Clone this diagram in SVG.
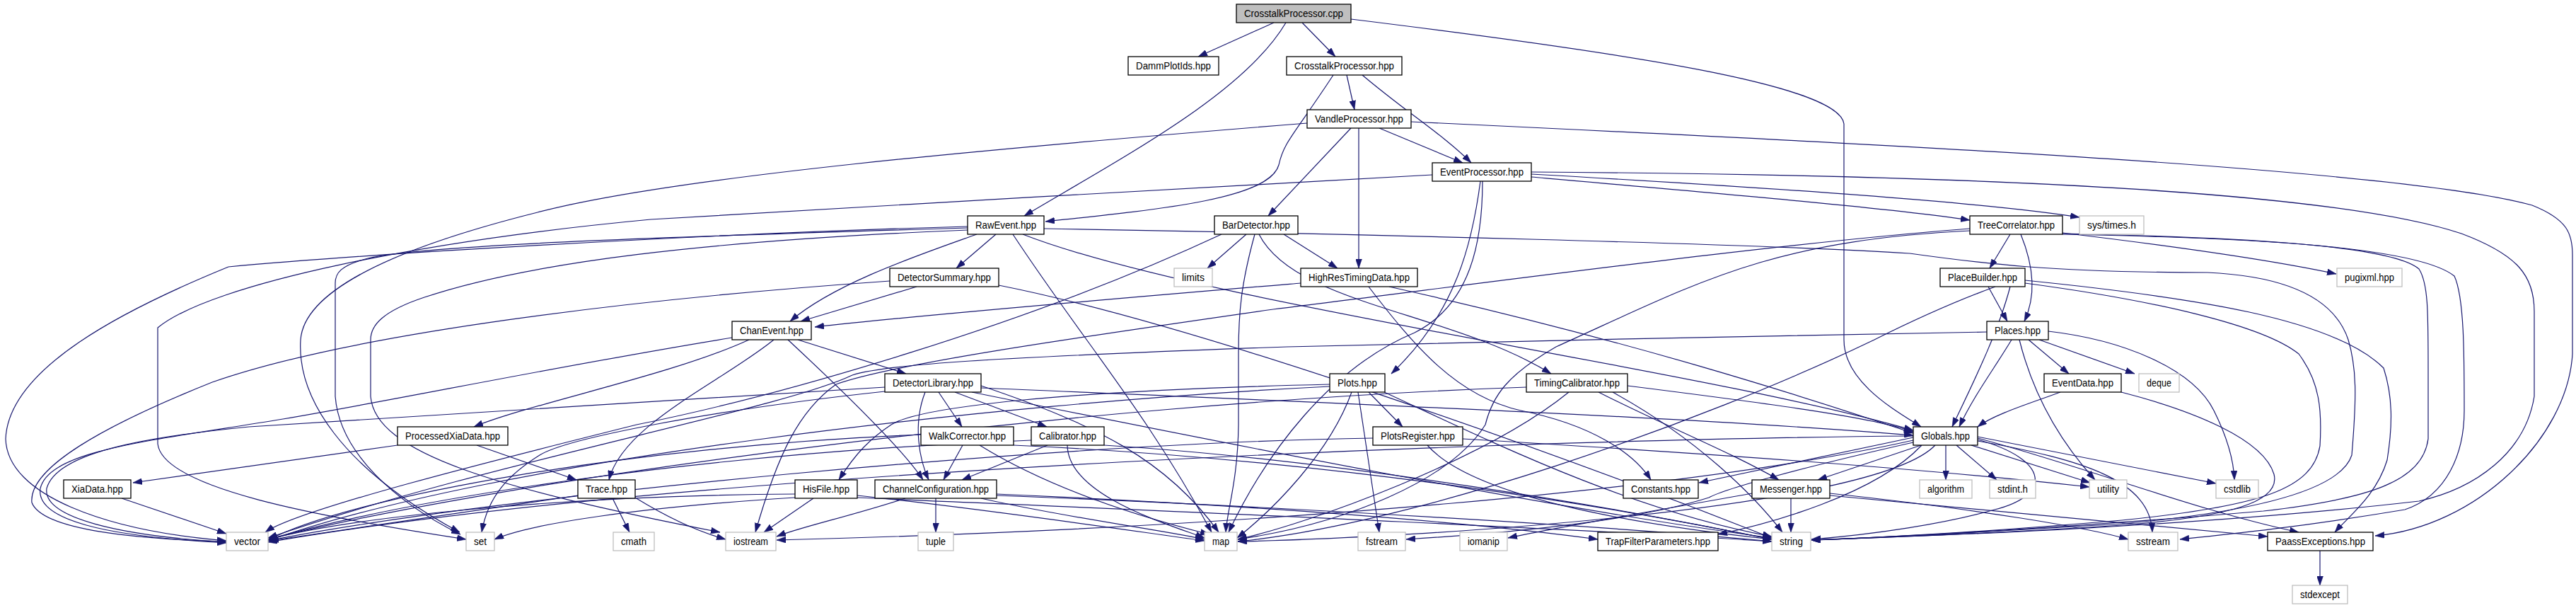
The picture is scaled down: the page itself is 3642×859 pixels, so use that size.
<svg xmlns="http://www.w3.org/2000/svg" width="3642" height="859" viewBox="0 0 3642 859">
<style>
.bg{fill:#ffffff}
.n rect{fill:#ffffff;stroke:#000000;stroke-width:1.3}
.s rect{fill:#ffffff;stroke:#bfbfbf;stroke-width:1.3}
.r rect{fill:#bfbfbf;stroke:#000000;stroke-width:1.3}
text{font-family:"Liberation Sans",Arial,sans-serif;font-size:14px;fill:#000000;text-anchor:middle}
#edges path{fill:none;stroke:#191970;stroke-width:1.2;marker-end:url(#ah)}
</style>
<defs>
<marker id="ah" viewBox="0 0 13 9" refX="13" refY="4.5" markerWidth="13" markerHeight="9" orient="auto" markerUnits="userSpaceOnUse">
<path d="M0,0 L13,4.5 L0,9 z" fill="#191970" stroke="#191970" stroke-width="0.5"/>
</marker>
</defs>
<rect class="bg" x="0" y="0" width="3642" height="859"/>
<g id="edges">
<path d="M1801,32 L1694,80"/>
<path d="M1841,32 L1888,80"/>
<path d="M1818,32 C1760,130 1600,215 1448,305"/>
<path d="M1910,27 C2300,75 2600,120 2607,175 L2607,480 C2607,540 2680,580 2716,603"/>
<path d="M1904,106 L1915,155"/>
<path d="M1926,106 C1990,160 2040,190 2080,230"/>
<path d="M1885,106 C1830,190 1815,200 1808,233 C1795,280 1650,295 1478,313"/>
<path d="M1910,181 L1793,305"/>
<path d="M1950,181 L2068,230"/>
<path d="M1921,181 L1921,379"/>
<path d="M1848,174 C1400,210 950,250 760,300 C560,350 430,410 425,480 C420,560 480,660 650,752"/>
<path d="M1995,172 C2700,205 3400,240 3580,290 C3630,310 3637,330 3637,360 L3637,500 C3630,620 3500,745 3358,757"/>
<path d="M2165,250 C2450,275 2680,295 2785,311"/>
<path d="M2165,246 C2500,265 2800,285 2940,307"/>
<path d="M2165,243 C2800,247 3300,270 3480,330 C3560,360 3583,390 3583,440 L3583,560 C3570,640 3500,690 3420,708 C3100,745 2700,758 2561,763"/>
<path d="M2093,256 C2082,340 2060,440 1967,528"/>
<path d="M2096,256 C2096,340 2080,430 2000,470 C1880,520 1790,640 1737,752"/>
<path d="M2025,247 C1700,265 1250,290 920,310 C600,340 300,400 223,463 L223,627 C230,690 450,730 659,762"/>
<path d="M1408,331 L1352,379"/>
<path d="M1381,331 C1300,360 1180,400 1117,454"/>
<path d="M1432,331 C1530,480 1620,580 1713,752"/>
<path d="M1446,331 C1700,430 2400,520 2705,608"/>
<path d="M1476,323 C1900,330 2500,345 2700,358 C2800,372 2900,385 3121,385 C3230,390 3300,420 3320,480 C3332,520 3332,560 3325,643 C3310,690 3200,722 3000,740 C2800,752 2650,760 2561,763"/>
<path d="M1368,320 C1000,330 500,360 323,377 C176,437 12,520 8,620 C10,700 150,750 320,764"/>
<path d="M1368,322 C1000,333 600,345 520,365 C480,375 474,387 474,400 L474,560 C480,640 560,710 651,755"/>
<path d="M1368,325 C1000,340 750,370 600,420 C540,440 524,460 524,480 L524,560 C530,640 700,690 1018,752"/>
<path d="M1296,405 L1132,454"/>
<path d="M1258,397 C900,422 500,470 300,540 C150,600 40,660 45,710 C60,750 200,762 320,765"/>
<path d="M1412,403 C1700,460 2200,640 2505,760"/>
<path d="M1762,331 L1707,379"/>
<path d="M1815,331 L1891,379"/>
<path d="M1774,331 C1755,400 1751,440 1751,500 L1751,600 C1750,680 1735,720 1733,752"/>
<path d="M1780,331 C1830,430 2050,440 2193,528"/>
<path d="M1727,331 C1450,460 1100,560 900,600 C700,650 420,720 375,752"/>
<path d="M1839,400 C1600,420 1300,445 1152,462"/>
<path d="M1964,405 C2300,480 2550,560 2705,612"/>
<path d="M1935,405 C2000,490 2060,560 2150,580 C2250,600 2310,640 2334,678"/>
<path d="M2842,331 L2813,379"/>
<path d="M2857,331 C2877,380 2878,420 2862,454"/>
<path d="M2916,329 C3050,345 3200,365 3303,387"/>
<path d="M2785,323 C2500,345 2100,400 1800,437 C1500,480 1260,515 1182,543 C1130,580 1100,640 1068,752"/>
<path d="M2785,326 C2500,340 2400,400 2200,490 C2130,530 2110,560 2100,600 C2050,680 1900,740 1750,762"/>
<path d="M2916,330 C3150,335 3380,345 3420,380 C3433,400 3433,440 3433,520 L3433,620 C3425,680 3350,705 3200,722 C2900,748 2650,760 2561,763"/>
<path d="M2916,331 C3200,336 3420,350 3470,390 C3484,420 3484,500 3484,580 C3484,640 3460,700 3400,720 C3250,745 3150,755 3082,762"/>
<path d="M2811,405 L2838,454"/>
<path d="M2842,405 C2825,470 2790,540 2760,603"/>
<path d="M2821,405 C2780,420 2720,445 2650,480 C2400,600 2000,740 1750,765"/>
<path d="M2863,396 C3100,420 3300,450 3370,520 C3383,560 3383,600 3375,650 C3360,700 3320,730 3301,752"/>
<path d="M2863,400 C3050,425 3200,460 3250,500 C3280,540 3283,580 3280,630 C3270,690 3200,715 3000,735 C2800,752 2650,760 2561,763"/>
<path d="M2868,480 L2925,528"/>
<path d="M2883,480 L3018,528"/>
<path d="M2844,480 C2820,520 2790,560 2770,603"/>
<path d="M2855,480 C2870,540 2900,610 2962,678"/>
<path d="M2896,468 C3000,480 3100,520 3130,580 C3150,620 3158,650 3159,678"/>
<path d="M2809,469 C2600,472 2000,485 1820,490 C1400,505 1250,515 1205,530 C1100,580 700,650 379,760"/>
<path d="M2913,554 C2870,570 2820,585 2796,603"/>
<path d="M2999,554 C3100,580 3200,620 3215,670 C3225,710 3150,730 3000,742 C2800,755 2650,760 2561,763"/>
<path d="M2751,629 L2751,678"/>
<path d="M2766,629 L2823,678"/>
<path d="M2787,629 L2955,682"/>
<path d="M2796,617 L3133,683"/>
<path d="M2796,619 C2950,660 3100,720 3250,752"/>
<path d="M2796,621 C2900,650 2900,700 2820,720 C2750,740 2650,755 2561,762"/>
<path d="M2796,623 C2950,650 3040,680 3043,752"/>
<path d="M2705,618 L2402,682"/>
<path d="M2716,629 L2570,678"/>
<path d="M2717,629 C2650,700 2500,740 2429,755"/>
<path d="M2736,629 C2650,720 2000,760 1750,765"/>
<path d="M2705,616 C2200,620 1000,660 379,766"/>
<path d="M2705,625 C2550,660 2440,690 2416,703 C2300,740 2100,755 1988,762"/>
<path d="M2705,622 C2400,690 1800,745 1098,763"/>
<path d="M2532,704 L2532,752"/>
<path d="M2477,697 C2350,720 2200,745 2132,760"/>
<path d="M2587,697 C2800,720 2950,745 3009,762"/>
<path d="M2587,700 C2900,730 3100,750 3206,758"/>
<path d="M3280,778 L3280,827"/>
<path d="M2018,629 C2080,700 2300,740 2505,762"/>
<path d="M2068,620 C2400,640 2700,660 2954,688"/>
<path d="M1941,619 C1500,625 700,700 379,764"/>
<path d="M1935,554 L1983,603"/>
<path d="M1920,554 L1950,752"/>
<path d="M1880,543 C1500,552 1300,575 1260,600 C1230,620 1210,640 1186,678"/>
<path d="M1911,554 C1880,640 1800,720 1749,760"/>
<path d="M1957,554 C2100,620 2300,720 2505,758"/>
<path d="M1880,546 C1400,570 700,650 379,764"/>
<path d="M1150,704 L1080,752"/>
<path d="M1212,700 C1400,720 1600,750 1703,764"/>
<path d="M1124,698 C800,700 500,730 379,762"/>
<path d="M1212,703 C1600,720 2200,745 2505,765"/>
<path d="M1124,703 C900,717 750,740 699,762"/>
<path d="M898,703 C950,735 990,752 1026,762"/>
<path d="M1323,704 L1323,752"/>
<path d="M1280,704 C1200,730 1130,745 1098,758"/>
<path d="M1387,704 C1500,730 1650,750 1703,762"/>
<path d="M1409,700 C1800,715 2300,745 2505,765"/>
<path d="M1409,698 C1800,715 2100,740 2259,762"/>
<path d="M1361,629 L1334,678"/>
<path d="M1385,629 C1500,700 1650,740 1710,755"/>
<path d="M1433,629 C1900,650 2300,720 2505,762"/>
<path d="M1302,614 C900,630 500,700 379,763"/>
<path d="M1481,629 L1360,678"/>
<path d="M1509,629 C1510,700 1650,740 1703,760"/>
<path d="M1561,629 C1900,650 2300,720 2505,762"/>
<path d="M1458,622 C1000,640 600,700 379,762"/>
<path d="M1327,554 L1360,603"/>
<path d="M1350,554 L1480,603"/>
<path d="M1308,554 C1290,600 1300,650 1313,678"/>
<path d="M1387,545 C1550,600 1650,650 1723,752"/>
<path d="M1374,554 C1700,620 2200,720 2505,760"/>
<path d="M1251,547 C1000,560 600,590 352,603 C200,618 80,640 66,690 C60,732 170,757 320,766"/>
<path d="M1251,553 C1000,580 800,620 763,643 C720,670 690,700 681,752"/>
<path d="M1387,548 C1900,570 2400,590 2705,615"/>
<path d="M1128,480 L1281,528"/>
<path d="M1059,480 C950,530 750,570 670,603"/>
<path d="M1094,480 C1020,540 880,600 861,678"/>
<path d="M1114,480 C1200,560 1280,640 1305,678"/>
<path d="M1035,477 C800,515 560,565 400,592 C220,622 70,635 57,690 C50,735 150,758 320,767"/>
<path d="M562,629 L188,682"/>
<path d="M674,629 L815,678"/>
<path d="M172,704 L320,754"/>
<path d="M817,700 L381,764"/>
<path d="M866,704 L890,752"/>
<path d="M2301,545 C2500,570 2650,590 2705,610"/>
<path d="M2260,554 C2350,600 2450,640 2515,678"/>
<path d="M2218,554 C2100,650 1850,740 1750,762"/>
<path d="M2280,554 C2400,620 2480,700 2520,752"/>
<path d="M2158,547 C1500,570 700,680 379,762"/>
</g>
<g id="n_CrosstalkProcessor_cpp" class="r"><rect x="1748" y="6" width="162" height="26"/><text x="1829" y="23.5" textLength="140" lengthAdjust="spacingAndGlyphs">CrosstalkProcessor.cpp</text></g>
<g id="n_DammPlotIds" class="n"><rect x="1595" y="80" width="128" height="26"/><text x="1659" y="97.5" textLength="106" lengthAdjust="spacingAndGlyphs">DammPlotIds.hpp</text></g>
<g id="n_CrosstalkProcessor_hpp" class="n"><rect x="1819" y="80" width="163" height="26"/><text x="1900.5" y="97.5" textLength="141" lengthAdjust="spacingAndGlyphs">CrosstalkProcessor.hpp</text></g>
<g id="n_VandleProcessor" class="n"><rect x="1848" y="155" width="147" height="26"/><text x="1921.5" y="172.5" textLength="125" lengthAdjust="spacingAndGlyphs">VandleProcessor.hpp</text></g>
<g id="n_EventProcessor" class="n"><rect x="2025" y="230" width="140" height="26"/><text x="2095" y="247.5" textLength="118" lengthAdjust="spacingAndGlyphs">EventProcessor.hpp</text></g>
<g id="n_RawEvent" class="n"><rect x="1368" y="305" width="108" height="26"/><text x="1422" y="322.5" textLength="86" lengthAdjust="spacingAndGlyphs">RawEvent.hpp</text></g>
<g id="n_BarDetector" class="n"><rect x="1717" y="305" width="118" height="26"/><text x="1776" y="322.5" textLength="96" lengthAdjust="spacingAndGlyphs">BarDetector.hpp</text></g>
<g id="n_TreeCorrelator" class="n"><rect x="2785" y="305" width="131" height="26"/><text x="2850.5" y="322.5" textLength="109" lengthAdjust="spacingAndGlyphs">TreeCorrelator.hpp</text></g>
<g id="n_sys_times" class="s"><rect x="2940" y="305" width="91" height="26"/><text x="2985.5" y="322.5" textLength="69" lengthAdjust="spacingAndGlyphs">sys/times.h</text></g>
<g id="n_DetectorSummary" class="n"><rect x="1258" y="379" width="154" height="26"/><text x="1335" y="396.5" textLength="132" lengthAdjust="spacingAndGlyphs">DetectorSummary.hpp</text></g>
<g id="n_limits" class="s"><rect x="1660" y="379" width="54" height="26"/><text x="1687" y="396.5" textLength="32" lengthAdjust="spacingAndGlyphs">limits</text></g>
<g id="n_HighResTimingData" class="n"><rect x="1839" y="379" width="165" height="26"/><text x="1921.5" y="396.5" textLength="143" lengthAdjust="spacingAndGlyphs">HighResTimingData.hpp</text></g>
<g id="n_PlaceBuilder" class="n"><rect x="2743" y="379" width="120" height="26"/><text x="2803" y="396.5" textLength="98" lengthAdjust="spacingAndGlyphs">PlaceBuilder.hpp</text></g>
<g id="n_pugixml" class="s"><rect x="3304" y="379" width="92" height="26"/><text x="3350" y="396.5" textLength="70" lengthAdjust="spacingAndGlyphs">pugixml.hpp</text></g>
<g id="n_ChanEvent" class="n"><rect x="1035" y="454" width="112" height="26"/><text x="1091" y="471.5" textLength="90" lengthAdjust="spacingAndGlyphs">ChanEvent.hpp</text></g>
<g id="n_Places" class="n"><rect x="2809" y="454" width="87" height="26"/><text x="2852.5" y="471.5" textLength="65" lengthAdjust="spacingAndGlyphs">Places.hpp</text></g>
<g id="n_DetectorLibrary" class="n"><rect x="1251" y="528" width="136" height="26"/><text x="1319" y="545.5" textLength="114" lengthAdjust="spacingAndGlyphs">DetectorLibrary.hpp</text></g>
<g id="n_Plots" class="n"><rect x="1880" y="528" width="78" height="26"/><text x="1919" y="545.5" textLength="56" lengthAdjust="spacingAndGlyphs">Plots.hpp</text></g>
<g id="n_TimingCalibrator" class="n"><rect x="2158" y="528" width="143" height="26"/><text x="2229.5" y="545.5" textLength="121" lengthAdjust="spacingAndGlyphs">TimingCalibrator.hpp</text></g>
<g id="n_EventData" class="n"><rect x="2890" y="528" width="109" height="26"/><text x="2944.5" y="545.5" textLength="87" lengthAdjust="spacingAndGlyphs">EventData.hpp</text></g>
<g id="n_deque" class="s"><rect x="3024" y="528" width="57" height="26"/><text x="3052.5" y="545.5" textLength="35" lengthAdjust="spacingAndGlyphs">deque</text></g>
<g id="n_ProcessedXiaData" class="n"><rect x="562" y="603" width="156" height="26"/><text x="640" y="620.5" textLength="134" lengthAdjust="spacingAndGlyphs">ProcessedXiaData.hpp</text></g>
<g id="n_WalkCorrector" class="n"><rect x="1302" y="603" width="131" height="26"/><text x="1367.5" y="620.5" textLength="109" lengthAdjust="spacingAndGlyphs">WalkCorrector.hpp</text></g>
<g id="n_Calibrator" class="n"><rect x="1458" y="603" width="103" height="26"/><text x="1509.5" y="620.5" textLength="81" lengthAdjust="spacingAndGlyphs">Calibrator.hpp</text></g>
<g id="n_PlotsRegister" class="n"><rect x="1941" y="603" width="127" height="26"/><text x="2004.5" y="620.5" textLength="105" lengthAdjust="spacingAndGlyphs">PlotsRegister.hpp</text></g>
<g id="n_Globals" class="n"><rect x="2705" y="603" width="91" height="26"/><text x="2750.5" y="620.5" textLength="69" lengthAdjust="spacingAndGlyphs">Globals.hpp</text></g>
<g id="n_XiaData" class="n"><rect x="90" y="678" width="95" height="26"/><text x="137.5" y="695.5" textLength="73" lengthAdjust="spacingAndGlyphs">XiaData.hpp</text></g>
<g id="n_Trace" class="n"><rect x="817" y="678" width="81" height="26"/><text x="857.5" y="695.5" textLength="59" lengthAdjust="spacingAndGlyphs">Trace.hpp</text></g>
<g id="n_HisFile" class="n"><rect x="1124" y="678" width="88" height="26"/><text x="1168" y="695.5" textLength="66" lengthAdjust="spacingAndGlyphs">HisFile.hpp</text></g>
<g id="n_ChannelConfiguration" class="n"><rect x="1237" y="678" width="172" height="26"/><text x="1323" y="695.5" textLength="150" lengthAdjust="spacingAndGlyphs">ChannelConfiguration.hpp</text></g>
<g id="n_Constants" class="n"><rect x="2295" y="678" width="106" height="26"/><text x="2348" y="695.5" textLength="84" lengthAdjust="spacingAndGlyphs">Constants.hpp</text></g>
<g id="n_Messenger" class="n"><rect x="2477" y="678" width="110" height="26"/><text x="2532" y="695.5" textLength="88" lengthAdjust="spacingAndGlyphs">Messenger.hpp</text></g>
<g id="n_algorithm" class="s"><rect x="2714" y="678" width="74" height="26"/><text x="2751" y="695.5" textLength="52" lengthAdjust="spacingAndGlyphs">algorithm</text></g>
<g id="n_stdint" class="s"><rect x="2813" y="678" width="65" height="26"/><text x="2845.5" y="695.5" textLength="43" lengthAdjust="spacingAndGlyphs">stdint.h</text></g>
<g id="n_utility" class="s"><rect x="2954" y="678" width="53" height="26"/><text x="2980.5" y="695.5" textLength="31" lengthAdjust="spacingAndGlyphs">utility</text></g>
<g id="n_cstdlib" class="s"><rect x="3133" y="678" width="60" height="26"/><text x="3163" y="695.5" textLength="38" lengthAdjust="spacingAndGlyphs">cstdlib</text></g>
<g id="n_vector" class="s"><rect x="320" y="752" width="59" height="26"/><text x="349.5" y="769.5" textLength="37" lengthAdjust="spacingAndGlyphs">vector</text></g>
<g id="n_set" class="s"><rect x="659" y="752" width="40" height="26"/><text x="679" y="769.5" textLength="18" lengthAdjust="spacingAndGlyphs">set</text></g>
<g id="n_cmath" class="s"><rect x="867" y="752" width="58" height="26"/><text x="896" y="769.5" textLength="36" lengthAdjust="spacingAndGlyphs">cmath</text></g>
<g id="n_iostream" class="s"><rect x="1026" y="752" width="71" height="26"/><text x="1061.5" y="769.5" textLength="49" lengthAdjust="spacingAndGlyphs">iostream</text></g>
<g id="n_tuple" class="s"><rect x="1298" y="752" width="50" height="26"/><text x="1323" y="769.5" textLength="28" lengthAdjust="spacingAndGlyphs">tuple</text></g>
<g id="n_map" class="s"><rect x="1703" y="752" width="46" height="26"/><text x="1726" y="769.5" textLength="24" lengthAdjust="spacingAndGlyphs">map</text></g>
<g id="n_fstream" class="s"><rect x="1920" y="752" width="67" height="26"/><text x="1953.5" y="769.5" textLength="45" lengthAdjust="spacingAndGlyphs">fstream</text></g>
<g id="n_iomanip" class="s"><rect x="2064" y="752" width="67" height="26"/><text x="2097.5" y="769.5" textLength="45" lengthAdjust="spacingAndGlyphs">iomanip</text></g>
<g id="n_TrapFilterParameters" class="n"><rect x="2259" y="752" width="170" height="26"/><text x="2344" y="769.5" textLength="148" lengthAdjust="spacingAndGlyphs">TrapFilterParameters.hpp</text></g>
<g id="n_string" class="s"><rect x="2505" y="752" width="55" height="26"/><text x="2532.5" y="769.5" textLength="33" lengthAdjust="spacingAndGlyphs">string</text></g>
<g id="n_sstream" class="s"><rect x="3009" y="752" width="70" height="26"/><text x="3044" y="769.5" textLength="48" lengthAdjust="spacingAndGlyphs">sstream</text></g>
<g id="n_PaassExceptions" class="n"><rect x="3206" y="752" width="149" height="26"/><text x="3280.5" y="769.5" textLength="127" lengthAdjust="spacingAndGlyphs">PaassExceptions.hpp</text></g>
<g id="n_stdexcept" class="s"><rect x="3241" y="827" width="78" height="26"/><text x="3280" y="844.5" textLength="56" lengthAdjust="spacingAndGlyphs">stdexcept</text></g>
</svg>
